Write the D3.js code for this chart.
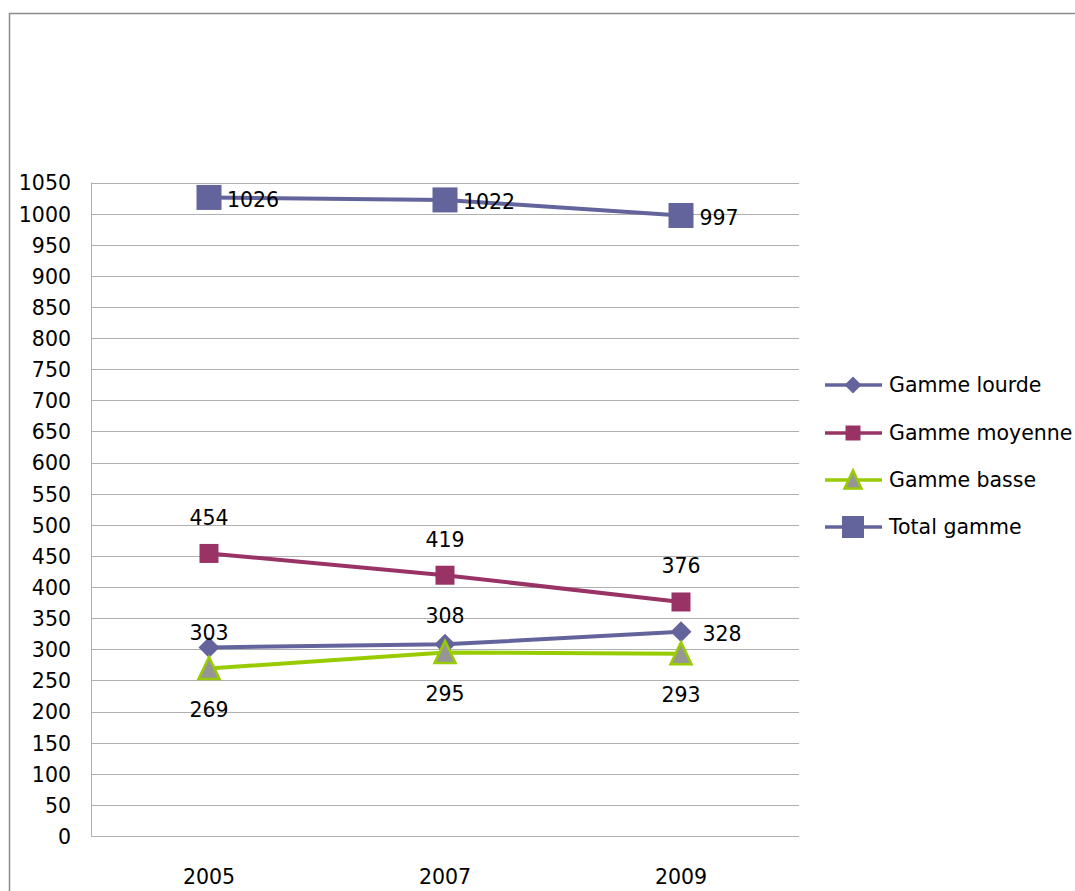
<!DOCTYPE html>
<html><head><meta charset="utf-8">
<script src="https://cdn.jsdelivr.net/npm/d3@7"></script>
<style>body{margin:0;background:#fff}svg{display:block}text{font-family:"DejaVu Sans",sans-serif;fill:#000}</style>
</head><body>
<svg id="c" width="1075" height="891"></svg>
<script>
const years = ["2005","2007","2009"];
const yTicks = d3.range(0, 1051, 50);
const seriesNames = ["Gamme lourde","Gamme moyenne","Gamme basse","Total gamme"];
const lourde = [303, 308, 328];
const moyenne = [454, 419, 376];
const basse = [269, 295, 293];
const total = [1026, 1022, 997];

const series = [
  {name: seriesNames[0], values: lourde, color: "#64649C", fill: "#64649C", marker: "diamond", size: 21, legSize: 17,
   labels: [{dx:0,dy:-15},{dx:0,dy:-29},{dx:41,dy:2}]},
  {name: seriesNames[1], values: moyenne, color: "#993366", fill: "#993366", marker: "square", size: 19, legSize: 15,
   labels: [{dx:0,dy:-36},{dx:0,dy:-36},{dx:0,dy:-36}]},
  {name: seriesNames[2], values: basse, color: "#99CC00", fill: "#969696", marker: "triangle", size: 21, legSize: 17,
   labels: [{dx:0,dy:41},{dx:0,dy:41},{dx:0,dy:41}]},
  {name: seriesNames[3], values: total, color: "#64649C", fill: "#64649C", marker: "square", size: 25, legSize: 22,
   labels: [{dx:44,dy:2},{dx:44,dy:2},{dx:38,dy:2}]}
];

(function(){
const svg = d3.select("#c");
svg.append("rect").attr("x",9.5).attr("y",13.5).attr("width",1100).attr("height",900)
  .attr("fill","none").attr("stroke","#8c8c8c").attr("stroke-width",1.5);

const pLeft = 91, pRight = 799, pTop = 182.5, pBottom = 836;
const x = d3.scaleBand().domain(years).range([pLeft, pRight]);
const y = d3.scaleLinear().domain([0, 1050]).range([pBottom, pTop]);
const cx = d => x(d) + x.bandwidth()/2;

svg.append("g").selectAll("line").data(yTicks).join("line")
  .attr("x1", pLeft).attr("x2", pRight)
  .attr("y1", d => Math.round(y(d))+0.5).attr("y2", d => Math.round(y(d))+0.5)
  .attr("stroke", "#b0b0b0").attr("stroke-width",1);
svg.append("line").attr("x1",pLeft+0.5).attr("x2",pLeft+0.5).attr("y1",pTop).attr("y2",pBottom)
  .attr("stroke","#b0b0b0");

const yAxis = svg.append("g").attr("transform",`translate(${pLeft-20},0)`)
  .call(d3.axisLeft(y).tickValues(yTicks).tickFormat(d3.format("d")).tickSize(0).tickPadding(0));
yAxis.select(".domain").remove();
yAxis.selectAll("text").attr("font-size",20.5).attr("font-family","DejaVu Sans, sans-serif").attr("fill","#000").attr("dy","0.36em");

const xAxis = svg.append("g").attr("transform",`translate(0,${pBottom})`)
  .call(d3.axisBottom(x).tickSize(0).tickPadding(33));
xAxis.select(".domain").remove();
xAxis.selectAll("text").attr("font-size",20.5).attr("font-family","DejaVu Sans, sans-serif").attr("fill","#000");

function drawMarker(g, type, size, color, fill) {
  if (type === "diamond") {
    const h = size/2;
    g.append("path").attr("d", `M0,${-h}L${h},0L0,${h}L${-h},0Z`).attr("fill", fill);
  } else if (type === "square") {
    g.append("rect").attr("x",-size/2).attr("y",-size/2).attr("width",size).attr("height",size).attr("fill",fill);
  } else if (type === "triangle") {
    const h = size, w = size;
    g.append("path").attr("d",`M0,${-h/2-1}L${w/2},${h/2}L${-w/2},${h/2}Z`)
      .attr("fill",fill).attr("stroke",color).attr("stroke-width",2.5);
  }
}

const line = d3.line().x((d,i) => cx(years[i])).y(d => y(d));
series.forEach(s => {
  const g = svg.append("g");
  g.append("path").attr("d", line(s.values)).attr("fill","none").attr("stroke", s.color).attr("stroke-width",4);
  s.values.forEach((v,i) => {
    const m = g.append("g").attr("transform",`translate(${cx(years[i])},${y(v)})`);
    drawMarker(m, s.marker, s.size, s.color, s.fill);
  });
  s.values.forEach((v,i) => {
    const l = s.labels[i];
    g.append("text").attr("x", cx(years[i]) + l.dx).attr("y", y(v) + l.dy)
      .attr("text-anchor","middle").attr("dy","0.36em").attr("font-size",20.5).text(v);
  });
});

const legY = [385, 433, 480, 527];
series.forEach((s,i) => {
  const g = svg.append("g").attr("transform",`translate(825,${legY[i]})`);
  g.append("line").attr("x1",0).attr("x2",57).attr("stroke",s.color).attr("stroke-width",3.5);
  const m = g.append("g").attr("transform","translate(28,0)");
  drawMarker(m, s.marker, s.legSize, s.color, s.fill);
  g.append("text").attr("x",64).attr("dy","0.36em").attr("font-size",20.5).text(s.name);
});
})();
</script>
</body></html>
